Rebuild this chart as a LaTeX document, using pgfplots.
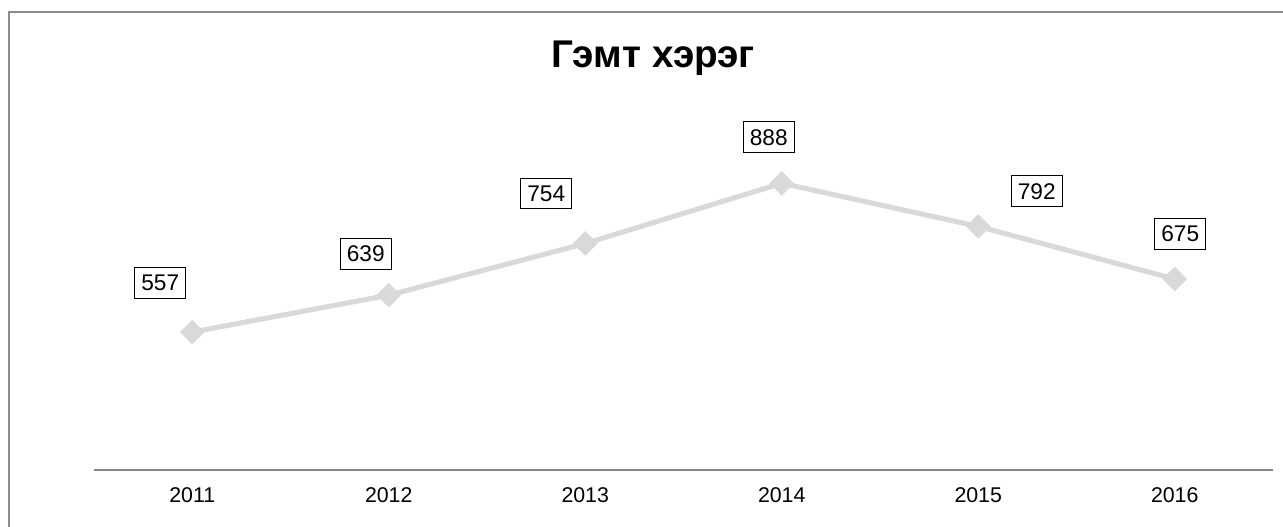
\documentclass[border=0pt]{standalone}
\usepackage{fontspec}
\setmainfont{Liberation Sans}
\usepackage{pgfplots}
\pgfplotsset{compat=1.18}
\definecolor{linegray}{HTML}{D9D9D9}
\definecolor{axisgray}{HTML}{868686}
\definecolor{framegray}{HTML}{8C8C8C}

\begin{document}
\begin{tikzpicture}
	% page = 1283 x 526 px at 0.75pt per px
	\useasboundingbox (0,0) rectangle (962.25pt,394.5pt);
	\draw[framegray, line width=1.2pt] (6.75pt,-10pt) -- (6.75pt,385.5pt) -- (980pt,385.5pt);
	\node[anchor=base, font=\fontsize{29}{34}\selectfont\bfseries] at (489.75pt,344pt) {Гэмт хэрэг};
	\begin{axis}[
		at={(70.5pt,42pt)}, anchor=south west,
		scale only axis,
		width=884.25pt, height=286.5pt,
		xmin=-0.5, xmax=5.5,
		ymin=250, ymax=1100,
		clip=false,
		axis x line=bottom,
		axis y line=none,
		x axis line style={-, axisgray, line width=1pt},
		xtick={0,1,2,3,4,5},
		xticklabels={2011,2012,2013,2014,2015,2016},
		major tick length=0pt,
		xticklabel style={font=\fontsize{16}{19}\selectfont, yshift=-9.5pt},
		/pgf/number format/assume math mode=true,
		]
		\addplot[color=linegray, line width=3.8pt, mark=square*,
			mark size=4.6pt, mark options={rotate=45, fill=linegray, draw=none}]
			coordinates {(0,557) (1,639) (2,754) (3,888) (4,792) (5,675)};

		\tikzset{lbl/.style={draw=black, line width=0.8pt, fill=white,
			inner xsep=4.8pt, inner ysep=5.6pt, font=\fontsize{17}{20}\selectfont}}
		\node[lbl, xshift=-24pt,   yshift=36.75pt] at (axis cs:0,557) {557};
		\node[lbl, xshift=-17.25pt,yshift=31.1pt]  at (axis cs:1,639) {639};
		\node[lbl, xshift=-29.25pt,yshift=37.5pt]  at (axis cs:2,754) {754};
		\node[lbl, xshift=-9.75pt, yshift=34.5pt]  at (axis cs:3,888) {888};
		\node[lbl, xshift=43.9pt,  yshift=26.25pt] at (axis cs:4,792) {792};
		\node[lbl, xshift=4.1pt,   yshift=34pt]    at (axis cs:5,675) {675};
	\end{axis}
\end{tikzpicture}
\end{document}
